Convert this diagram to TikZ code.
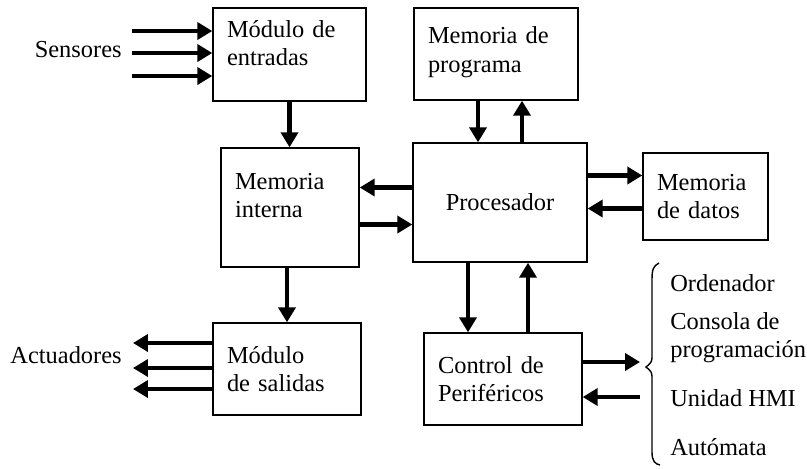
\documentclass[tikz,border=0pt]{standalone}
\usepackage{fontspec}
\setmainfont{Liberation Serif}
\usetikzlibrary{arrows.meta,calc}

\begin{document}
\begin{tikzpicture}[
  x=0.02cm, y=-0.02cm,
  >={Triangle[length=0.3cm,width=0.34cm]},
  every node/.style={font=\fontsize{13.9}{16}\selectfont},
  blk/.style={draw,line width=0.8pt,align=left,inner xsep=0.28cm,inner ysep=0pt},
  lbl/.style={inner sep=0pt,align=left},
  flow/.style={->,line width=2.5pt}
]
\useasboundingbox (0,0) rectangle (807,468);
% bloques
\node[blk,text width=2.5cm,minimum height=1.86cm,text depth=1.02cm] (entradas) at (289.5,54.5) {Módulo de\\entradas};
\node[blk,text width=2.72cm,minimum height=1.84cm,text depth=0.74cm] (programa) at (496,54) {Memoria de\\programa};
\node[blk,text width=2.2cm,minimum height=2.38cm,text depth=1.04cm] (interna) at (290,207.5) {Memoria\\interna};
\node[blk,text width=2.92cm,minimum height=2.38cm,align=center] (procesador) at (500,202.5) {Procesador};
\node[blk,text width=1.94cm,minimum height=1.74cm] (datos) at (705.5,196.5) {Memoria\\de datos};
\node[blk,text width=2.4cm,minimum height=1.84cm] (salidas) at (287,369) {Módulo\\de salidas};
\node[blk,text width=2.6cm,minimum height=1.84cm] (control) at (503,379) {Control de\\Periféricos};
% textos
\node[lbl,anchor=east] (sensores) at (122,50) {Sensores};
\node[lbl,anchor=east] (actuadores) at (122,355) {Actuadores};
\node[lbl,anchor=west] (ordenador) at (670,283) {Ordenador};
\node[lbl,anchor=west] (consola) at (670,338) {Consola de\\programación};
\node[lbl,anchor=west] (hmi) at (670,398) {Unidad HMI};
\node[lbl,anchor=west] (automata) at (670,447) {Autómata};
% entradas y salidas
\foreach \n/\y in {1/31,2/53,3/76} {
  \coordinate (s\n) at (132,\y);
  \draw[flow] (s\n) -- (s\n -| entradas.west);
}
\foreach \n/\y in {1/343,2/368,3/389} {
  \coordinate (a\n) at (133,\y);
  \draw[flow] (a\n -| salidas.west) -- (a\n);
}
\draw[flow] (entradas.south) -- (entradas.south |- interna.north);
\draw[flow] (salidas.north |- interna.south) -- (salidas.north);
% procesador
\coordinate (pp1) at ($(procesador.north)+(-22,0)$);
\coordinate (pp2) at ($(procesador.north)+(22,0)$);
\draw[flow] (pp1 |- programa.south) -- (pp1);
\draw[flow] (pp2) -- (pp2 |- programa.south);
\coordinate (pi1) at ($(procesador.west)+(0,-15)$);
\coordinate (pi2) at ($(procesador.west)+(0,22)$);
\draw[flow] (pi1) -- (pi1 -| interna.east);
\draw[flow] (pi2 -| interna.east) -- (pi2);
\coordinate (pd1) at ($(procesador.east)+(0,-27)$);
\coordinate (pd2) at ($(procesador.east)+(0,6)$);
\draw[flow] (pd1) -- (pd1 -| datos.west);
\draw[flow] (pd2 -| datos.west) -- (pd2);
\coordinate (pc1) at ($(procesador.south)+(-32,0)$);
\coordinate (pc2) at ($(procesador.south)+(28,0)$);
\draw[flow] (pc1) -- (pc1 |- control.north);
\draw[flow] (pc2 |- control.north) -- (pc2);
% perifericos
\coordinate (c1) at (640,362);
\coordinate (c2) at (640,397);
\draw[flow] (c1 -| control.east) -- (c1);
\draw[flow] (c2) -- (c2 -| control.east);
\draw[line width=0.8pt] (659,263) .. controls (653,266) and (652,270) .. (652,280)
  -- (652,354) .. controls (652,362) .. (646,367) .. controls (652,372) .. (652,380)
  -- (652,452) .. controls (652,461) and (655,464) .. (660,465);
\end{tikzpicture}
\end{document}
